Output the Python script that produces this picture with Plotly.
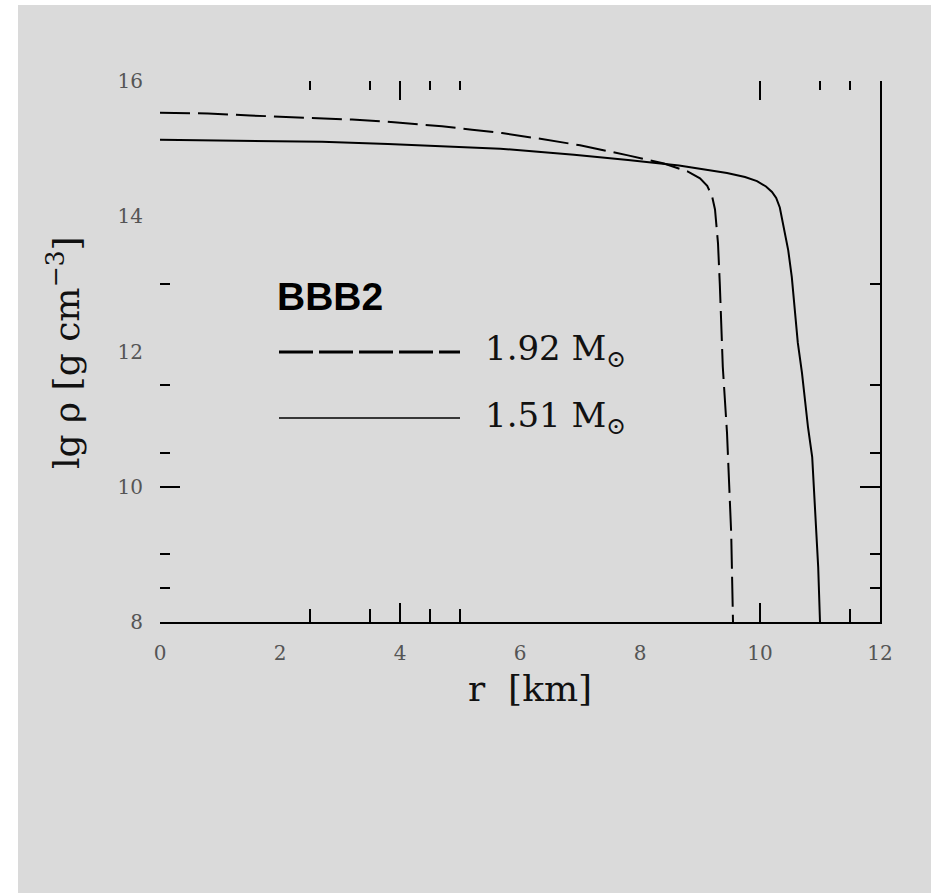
import plotly.graph_objects as go

# ---------------- data ----------------
r_192 = [0, 0.8, 1.5, 2.5, 3.2, 3.9, 4.7, 5.2, 5.7, 6.3, 7.0, 7.8, 8.4, 8.8,
         9.0, 9.12, 9.2, 9.25, 9.3, 9.33, 9.38, 9.45, 9.48, 9.52, 9.55]
rho_192 = [15.53, 15.52, 15.49, 15.46, 15.43, 15.39, 15.33, 15.28, 15.23, 15.15,
           15.05, 14.9, 14.78, 14.66, 14.56, 14.45, 14.3, 14.1, 13.6, 13.0,
           11.77, 10.8, 10.06, 9.31, 8.0]

r_151 = [0, 1.3, 2.7, 3.8, 4.8, 5.67, 6.2, 6.9, 7.8, 8.65, 9.45, 9.75, 9.95,
         10.1, 10.2, 10.27, 10.33, 10.38, 10.47, 10.53, 10.58, 10.63, 10.7,
         10.75, 10.8, 10.87, 10.9, 10.93, 10.97, 11.0]
rho_151 = [15.13, 15.12, 15.1, 15.07, 15.03, 15.0, 14.96, 14.91, 14.83, 14.75,
           14.64, 14.58, 14.52, 14.44, 14.36, 14.27, 14.13, 13.9, 13.5, 13.1,
           12.6, 12.13, 11.68, 11.24, 10.88, 10.44, 10.0, 9.55, 8.81, 8.0]

x_labels = [0, 2, 4, 6, 8, 10, 12]
y_labels = [8, 10, 12, 14, 16]

# visible tick marks (as in the scanned figure)
x_bottom_minor = [2.5, 3.5, 4.5, 5, 11.5]
x_bottom_major = [4, 10]
x_top_minor = [2.5, 3.5, 4.5, 5, 11, 11.5]
x_top_major = [4, 10]
y_minor = [8.5, 9, 10.5, 11.5, 13]
y_major = [10]

series_title = "BBB2"
label_192 = "1.92 M<sub>⊙</sub>"
label_151 = "1.51 M<sub>⊙</sub>"
x_title = "r  [km]"
y_title = "lg ρ [g cm<sup>−3</sup>]"

BG = "#dadada"
SERIF = "DejaVu Serif"

fig = go.Figure()
fig.add_trace(go.Scatter(x=r_192, y=rho_192, mode="lines",
                         line=dict(color="black", width=2, dash="30px,8px"),
                         showlegend=False, hoverinfo="skip"))
fig.add_trace(go.Scatter(x=r_151, y=rho_151, mode="lines",
                         line=dict(color="black", width=2),
                         showlegend=False, hoverinfo="skip"))

# dummy traces so that the overlay tick axes exist
for xa, ya in [("x2", "y"), ("x3", "y"), ("x4", "y"), ("x5", "y"),
               ("x", "y2"), ("x", "y3"), ("x", "y4"), ("x", "y5")]:
    fig.add_trace(go.Scatter(x=[None], y=[None], xaxis=xa, yaxis=ya,
                             showlegend=False, hoverinfo="skip"))

common = dict(showgrid=False, zeroline=False, fixedrange=True)
tickax = dict(showticklabels=False, showline=False, ticks="inside",
              tickcolor="black", tickwidth=2, **common)

fig.update_layout(
    width=931, height=893,
    margin=dict(l=160, r=51, t=81, b=271),
    paper_bgcolor=BG, plot_bgcolor=BG,
    showlegend=False,
    xaxis=dict(range=[0, 12], tickvals=x_labels, ticks="",
               showline=True, linecolor="black", linewidth=2,
               tickfont=dict(family=SERIF, size=20, color="#555"),
               ticklabelstandoff=12, **common),
    yaxis=dict(range=[8, 16], tickvals=y_labels, ticks="",
               showline=False,
               tickfont=dict(family=SERIF, size=20, color="#555"),
               ticklabelstandoff=16, **common),
    xaxis2=dict(range=[0, 12], overlaying="x", anchor="y", side="bottom",
                tickvals=x_bottom_minor, ticklen=13, **tickax),
    xaxis3=dict(range=[0, 12], overlaying="x", anchor="y", side="bottom",
                tickvals=x_bottom_major, ticklen=19, **tickax),
    xaxis4=dict(range=[0, 12], overlaying="x", anchor="y", side="top",
                tickvals=x_top_minor, ticklen=9, **tickax),
    xaxis5=dict(range=[0, 12], overlaying="x", anchor="y", side="top",
                tickvals=x_top_major, ticklen=19, **tickax),
    yaxis2=dict(range=[8, 16], overlaying="y", anchor="x", side="left",
                tickvals=y_minor, ticklen=10, **tickax),
    yaxis3=dict(range=[8, 16], overlaying="y", anchor="x", side="left",
                tickvals=y_major, ticklen=20, **tickax),
    yaxis4=dict(range=[8, 16], overlaying="y", anchor="x", side="right",
                tickvals=y_minor, ticklen=10, ticks="inside",
                tickcolor="black", tickwidth=2, showticklabels=False,
                showline=True, linecolor="black", linewidth=2,
                showgrid=False, zeroline=False, fixedrange=True),
    yaxis5=dict(range=[8, 16], overlaying="y", anchor="x", side="right",
                tickvals=y_major, ticklen=20, **tickax),
)

# white scan border (left and top edges)
fig.add_shape(type="rect", xref="paper", yref="paper", layer="below",
              x0=-160/720, x1=-142/720, y0=-271/541, y1=1 + 81/541,
              line=dict(width=0), fillcolor="white")
fig.add_shape(type="rect", xref="paper", yref="paper", layer="below",
              x0=-160/720, x1=1 + 51/720, y0=1 + 76/541, y1=1 + 81/541,
              line=dict(width=0), fillcolor="white")

# legend key lines
fig.add_shape(type="line", xref="paper", yref="paper",
              x0=(279-160)/720, x1=(460-160)/720,
              y0=(622-352)/541, y1=(622-352)/541,
              line=dict(color="black", width=3, dash="34px,6px"))
fig.add_shape(type="line", xref="paper", yref="paper",
              x0=(279-160)/720, x1=(460-160)/720,
              y0=(622-418)/541, y1=(622-418)/541,
              line=dict(color="black", width=1.5))

ann = []
ann.append(dict(text="<b>" + series_title + "</b>", xref="paper", yref="paper",
                x=(275-160)/720, y=(622-296)/541, xanchor="left", yanchor="middle",
                showarrow=False, font=dict(family="Liberation Sans", size=39, color="black")))
ann.append(dict(text=label_192, xref="paper", yref="paper",
                x=(483-160)/720, y=(622-350)/541, xanchor="left", yanchor="middle",
                showarrow=False, font=dict(family=SERIF, size=34, color="#111")))
ann.append(dict(text=label_151, xref="paper", yref="paper",
                x=(483-160)/720, y=(622-417)/541, xanchor="left", yanchor="middle",
                showarrow=False, font=dict(family=SERIF, size=34, color="#111")))
ann.append(dict(text=x_title, xref="paper", yref="paper",
                x=(530-160)/720, y=(622-688)/541, xanchor="center", yanchor="middle",
                showarrow=False, font=dict(family=SERIF, size=36, color="#111")))
ann.append(dict(text=y_title, xref="paper", yref="paper", textangle=-90,
                x=(64-160)/720, y=(622-353)/541, xanchor="center", yanchor="middle",
                showarrow=False, font=dict(family=SERIF, size=36, color="#111")))
fig.update_layout(annotations=ann)

fig.write_html("out.html")
